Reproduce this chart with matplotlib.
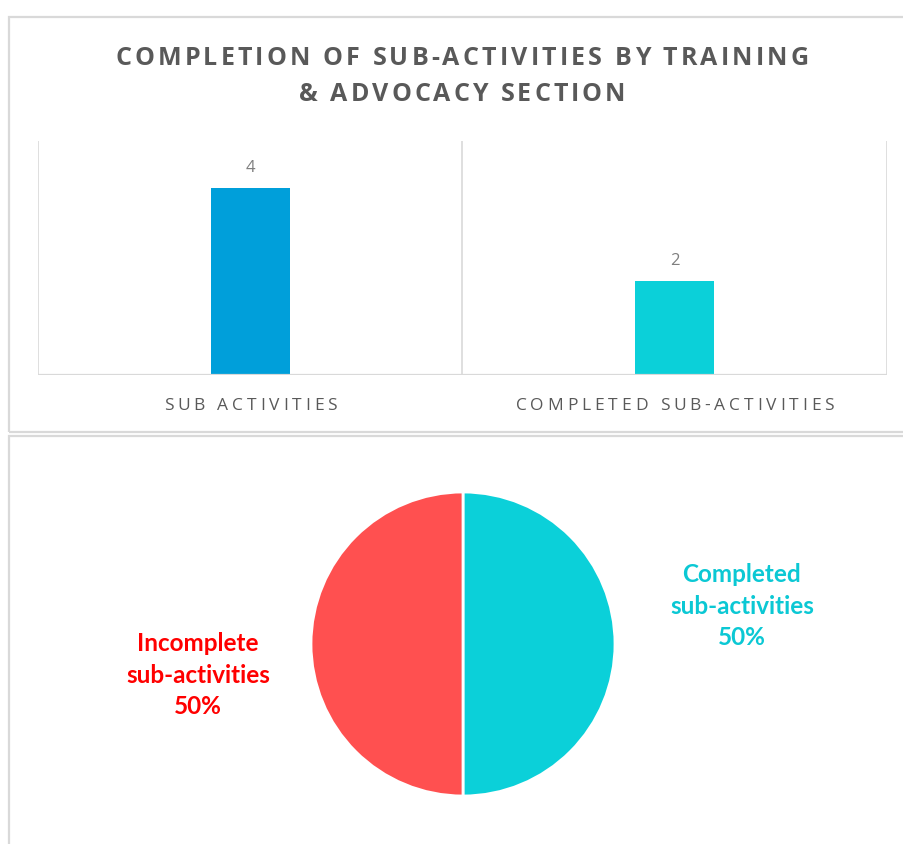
import matplotlib
matplotlib.use("Agg")
import matplotlib.pyplot as plt
from matplotlib.patches import Rectangle
from matplotlib.font_manager import FontProperties, findfont
from matplotlib.ft2font import FT2Font

# data
title_lines = ["COMPLETION OF SUB-ACTIVITIES BY TRAINING", "& ADVOCACY SECTION"]
bar_categories = ["SUB ACTIVITIES", "COMPLETED SUB-ACTIVITIES"]
bar_values = [4, 2]
pie_labels = ["Completed\nsub-activities", "Incomplete\nsub-activities"]
pie_values = [50, 50]

W, H, DPI = 904, 844, 100
GRAY = "#595959"
EDGE = "#D9D9D9"
bar_colors = ["#009FDA", "#0BD0D9"]
pie_colors = ["#0BD0D9", "#FF5050"]
pie_text_colors = ["#0BC8D4", "#FF0000"]

fig = plt.figure(figsize=(W / DPI, H / DPI), dpi=DPI)


def spaced_text(x, y, s, size, spacing, weight="normal", color=GRAY, family="Open Sans"):
    # draw text with letter spacing, x = centre, y = baseline (pixels from top)
    prop = FontProperties(family=family, weight=weight, size=size)
    font = FT2Font(findfont(prop))
    font.set_size(size, DPI)
    adv = [font.load_char(ord(c)).linearHoriAdvance / 65536 for c in s]
    total = sum(adv) + spacing * (len(s) - 1)
    cx = x - total / 2
    for c, a in zip(s, adv):
        fig.text(cx / W, 1 - y / H, c, fontproperties=prop, color=color,
                 ha="left", va="baseline")
        cx += a + spacing


# panel borders
fig.add_artist(Rectangle((9 / W, 1 - 432 / H), 1, (432 - 17) / H, transform=fig.transFigure,
                         fill=False, edgecolor=EDGE, linewidth=1.6))
fig.add_artist(Rectangle((9 / W, -0.1), 1, 0.1 + (844 - 436) / H, transform=fig.transFigure,
                         fill=False, edgecolor=EDGE, linewidth=1.6))

# title
spaced_text(462, 65, title_lines[0], 18, 3.15, weight="bold")
spaced_text(462, 101, title_lines[1], 18, 3.0, weight="bold")

# bar chart
ax = fig.add_axes([38 / W, 1 - 375 / H, (887 - 38) / W, (375 - 141) / H])
xs = [0.5, 1.5]
ax.bar(xs, bar_values, width=0.186, color=bar_colors)
for x, v in zip(xs, bar_values):
    ax.annotate(str(v), (x, v), xytext=(0, 11.5), textcoords="offset points",
                ha="center", va="baseline", fontsize=12, color="#7F7F7F",
                family="Open Sans")
ax.set_xlim(0, 2)
ax.set_ylim(0, 5)
for gx in [0, 1, 2]:
    ax.axvline(gx, color=EDGE, linewidth=1.2)
ax.axhline(0, color=EDGE, linewidth=1.6)
for sp in ax.spines.values():
    sp.set_visible(False)
ax.set_xticks([])
ax.set_yticks([])
for i, cat in enumerate(bar_categories):
    spaced_text(38 + (887 - 38) * xs[i] / 2, 410, cat, 12.5, 3.85, color=GRAY)

# pie chart
cx, cy, r = 463, 644, 152
ax2 = fig.add_axes([(cx - r) / W, 1 - (cy + r) / H, 2 * r / W, 2 * r / H])
ax2.pie(pie_values, colors=pie_colors, startangle=90, counterclock=False,
        wedgeprops=dict(edgecolor="white", linewidth=2))
ax2.set_xlim(-1, 1)
ax2.set_ylim(-1, 1)
ax2.set_aspect("equal")
label_pos = [(1.835, 0.25), (-1.743, -0.204)]
for lab, v, col, (lx, ly) in zip(pie_labels, pie_values, pie_text_colors, label_pos):
    ax2.text(lx, ly, f"{lab}\n{v}%", ha="center", va="center", color=col,
             fontsize=17.5, fontweight="bold", family="Lato", linespacing=1.45,
             clip_on=False)

fig.savefig("out.png", dpi=DPI)
